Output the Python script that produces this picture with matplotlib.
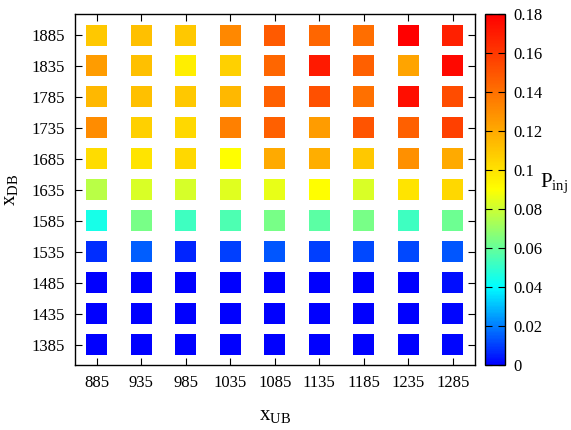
import numpy as np
import matplotlib
matplotlib.use('Agg')
import matplotlib.pyplot as plt
from matplotlib.colors import LinearSegmentedColormap, Normalize

plt.rcParams['font.family'] = ['Liberation Serif', 'DejaVu Serif']
plt.rcParams['mathtext.fontset'] = 'custom'
plt.rcParams['mathtext.rm'] = 'Liberation Serif'
plt.rcParams['mathtext.it'] = 'Liberation Serif'

# data
x_ub = [885, 935, 985, 1035, 1085, 1135, 1185, 1235, 1285]
x_db = [1385, 1435, 1485, 1535, 1585, 1635, 1685, 1735, 1785, 1835, 1885]

# P_inj, one row per x_DB (bottom to top), one column per x_UB
p_1385 = [0, 0, 0, 0, 0, 0, 0, 0, 0.0013]
p_1435 = [0, 0, 0, 0, 0, 0, 0, 0, 0.0013]
p_1485 = [0, 0, 0, 0, 0, 0, 0, 0, 0.0025]
p_1535 = [0.0075, 0.015, 0.0063, 0.010, 0.0138, 0.010, 0.0113, 0.0113, 0.0138]
p_1585 = [0.0447, 0.0635, 0.0525, 0.0549, 0.0635, 0.058, 0.0635, 0.0525, 0.0612]
p_1635 = [0.0761, 0.0824, 0.0816, 0.0839, 0.0855, 0.090, 0.0824, 0.0995, 0.1038]
p_1685 = [0.1024, 0.0995, 0.1038, 0.090, 0.120, 0.1186, 0.1094, 0.1292, 0.120]
p_1735 = [0.1306, 0.1066, 0.1038, 0.1348, 0.1461, 0.1249, 0.150, 0.1461, 0.1574]
p_1785 = [0.115, 0.1122, 0.1094, 0.115, 0.1461, 0.1517, 0.1405, 0.1744, 0.1528]
p_1835 = [0.1249, 0.1122, 0.096, 0.1066, 0.144, 0.1708, 0.1461, 0.1218, 0.1765]
p_1885 = [0.1094, 0.1122, 0.1094, 0.132, 0.1482, 0.144, 0.1412, 0.180, 0.1687]

rows = [p_1385, p_1435, p_1485, p_1535, p_1585, p_1635,
        p_1685, p_1735, p_1785, p_1835, p_1885]

cb_ticks = [0, 0.02, 0.04, 0.06, 0.08, 0.1, 0.12, 0.14, 0.16, 0.18]
cb_labels = ['0', '0.02', '0.04', '0.06', '0.08', '0.1', '0.12', '0.14', '0.16', '0.18']

vmax = 0.18
cmap = LinearSegmentedColormap.from_list(
    'pinj', [(0.0, (0, 0, 1)), (0.04 / vmax, (0, 1, 1)),
             (0.09 / vmax, (1, 1, 0)), (1.0, (1, 0, 0))])
norm = Normalize(0, vmax)

X, Y = np.meshgrid(x_ub, x_db)
P = np.array(rows)

fig = plt.figure(figsize=(5.71, 4.30), dpi=100)
ax = fig.add_axes([0.1305, 0.1512, 0.7014, 0.8163])
cax = fig.add_axes([0.8494, 0.1512, 0.035, 0.8163])

ax.scatter(X.ravel(), Y.ravel(), c=P.ravel(), cmap=cmap, norm=norm,
           marker='s', s=228, linewidths=0)
ax.set_xlim(860, 1310)
ax.set_ylim(1352, 1919)
ax.set_xticks(x_ub)
ax.set_yticks(x_db)
ax.tick_params(direction='in', length=5, width=0.8, top=True, right=True,
               labelsize=12, pad=7)
for s in ax.spines.values():
    s.set_linewidth(1.0)

ax.set_xlabel(r'x$_{\rm UB}$', fontsize=15, labelpad=11)
ax.set_ylabel(r'x$_{\rm DB}$', fontsize=15, labelpad=8)

cb = fig.colorbar(plt.cm.ScalarMappable(norm=norm, cmap=cmap), cax=cax)
cb.set_ticks(cb_ticks)
cb.set_ticklabels(cb_labels)
cax.tick_params(direction='in', length=5, width=0.8, left=True, right=True,
                labelsize=12, pad=6)
cb.outline.set_linewidth(1.0)
fig.text(0.945, 0.575, r'P$_{\rm inj}$', fontsize=15, ha='left', va='center')

fig.savefig('out.png', dpi=100)
